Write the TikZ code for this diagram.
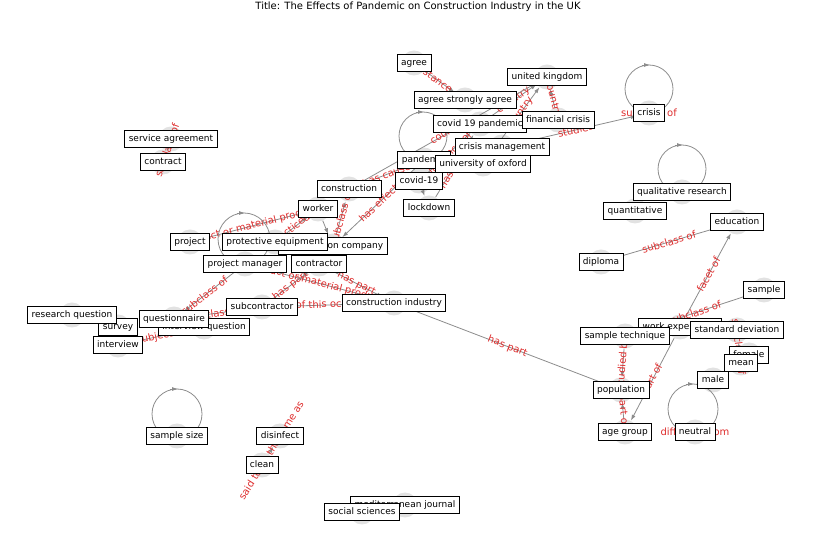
\documentclass[tikz,border=0pt]{standalone}
\usepackage{fontspec}
\setmainfont{DejaVu Sans}
\usetikzlibrary{arrows.meta}
\definecolor{relred}{RGB}{222,45,45}
\definecolor{edgegray}{RGB}{140,140,140}
\definecolor{dotgray}{RGB}{226,226,226}
\tikzset{
  vert/.style={circle, fill=dotgray, minimum size=25pt, inner sep=0pt},
  tag/.style={draw=black, fill=white, line width=0.8pt, inner xsep=4pt, inner ysep=3.8pt,
    text height=7pt, text depth=2pt, font=\fontsize{9}{10}\selectfont},
  rel/.style={draw=edgegray, line width=0.8pt, -{Latex[length=6pt,width=4pt]}},
  loopline/.style={draw=edgegray, line width=0.8pt},
  rellbl/.style={text=relred, font=\fontsize{10}{11}\selectfont, inner sep=1pt},
}

\begin{document}
\begin{tikzpicture}[x=1pt, y=1pt]
                \useasboundingbox (0,0) rectangle (837,559);
                \node (title) at (418,552) {\fontsize{10}{12}\selectfont Title: The Effects of Pandemic on Construction Industry in the UK};

                % Vertices
                \node[vert] (agree) at (414,496) {};
                \node[vert] (uk) at (547,482) {};
                \node[vert] (agreestr) at (465,459) {};
                \node[vert] (covpand) at (480,435) {};
                \node[vert] (fincrisis) at (558,439) {};
                \node[vert] (crisis) at (649,446) {};
                \node[vert] (crismgmt) at (502,412) {};
                \node[vert] (pandemic) at (424,399) {};
                \node[vert] (oxford) at (483,395) {};
                \node[vert] (covid) at (419,378) {};
                \node[vert] (constr) at (349,370) {};
                \node[vert] (lockdown) at (429,351) {};
                \node[vert] (worker) at (318,350) {};
                \node[vert] (servagr) at (171,420) {};
                \node[vert] (contract) at (163,397) {};
                \node[vert] (constrco) at (333,313) {};
                \node[vert] (project) at (190,317) {};
                \node[vert] (protequip) at (275,317) {};
                \node[vert] (projmgr) at (245,295) {};
                \node[vert] (contractor) at (319,295) {};
                \node[vert] (subcontr) at (262,252) {};
                \node[vert] (constrind) at (394,256) {};
                \node[vert] (resq) at (72,244) {};
                \node[vert] (survey) at (118,232) {};
                \node[vert] (intq) at (204,232) {};
                \node[vert] (questionnaire) at (174,240) {};
                \node[vert] (interview) at (118,214) {};
                \node[vert] (qualres) at (682,367) {};
                \node[vert] (quant) at (635,348) {};
                \node[vert] (education) at (737,337) {};
                \node[vert] (diploma) at (601,297) {};
                \node[vert] (sample) at (764,269) {};
                \node[vert] (workexp) at (680,232) {};
                \node[vert] (samptech) at (625,223) {};
                \node[vert] (stddev) at (737,229) {};
                \node[vert] (female) at (749,204) {};
                \node[vert] (mean) at (741,196) {};
                \node[vert] (male) at (713,179) {};
                \node[vert] (population) at (621,169) {};
                \node[vert] (agegroup) at (625,127) {};
                \node[vert] (neutral) at (695,127) {};
                \node[vert] (sampsize) at (177,123) {};
                \node[vert] (disinfect) at (280,123) {};
                \node[vert] (clean) at (262,94) {};
                \node[vert] (medjournal) at (405,54) {};
                \node[vert] (socsci) at (362,47) {};

                % Relations, upper part
                \draw[rel] (agree) -- node[rellbl, sloped] {instance of} (agreestr);
                \draw[rel] (covpand) -- node[rellbl, sloped] {country} (uk);
                \draw[rel] (oxford) -- node[rellbl, sloped, pos=0.6] {country} (uk);
                \draw[rel] (fincrisis) -- node[rellbl, sloped] {country} (uk);
                \draw[rel] (constr) -- node[rellbl, sloped] {country} (uk);
                \draw[rel] (crismgmt) -- node[rellbl, sloped] {studies} (crisis);
                \draw[rel] (covid) -- node[rellbl, sloped] {instance of} (covpand);
                \draw[rel] (constr) -- node[rellbl, sloped] {has cause} (pandemic);
                \draw[rel] (pandemic) -- node[rellbl, sloped] {has effect} (constrco);
                \draw[rel] (covid) -- (lockdown);
                \draw[rel] (lockdown) -- node[rellbl, sloped] {has cause} (covpand);
                \draw[rel] (constrco) -- node[rellbl, sloped] {subclass of} (constr);
                \draw[rel] (worker) -- (constrco);

                % Relations, middle part
                \draw[rel] (protequip) -- node[rellbl, sloped] {practiced by} (worker);
                \draw[rel] (project) -- node[rellbl, sloped] {product or material produced} (worker);
                \draw[rel] (projmgr) -- node[rellbl, sloped, pos=0.6] {subclass of} (questionnaire);
                \draw[rel] (questionnaire) -- node[rellbl, sloped, pos=0.45] {subclass of} (subcontr);
                \draw[rel] (subcontr) -- node[rellbl, sloped] {has part} (contractor);
                \draw[rel] (contractor) -- node[rellbl, sloped] {has part} (constrind);
                \draw[rel] (projmgr) -- node[rellbl, sloped] {product or material produced} (constrind);
                \draw[rel] (subcontr) -- node[rellbl, sloped] {field of this occupation} (constrind);
                \draw[rel] (constrind) -- node[rellbl, sloped] {has part} (population);
                \draw[rel] (contract) -- node[rellbl, sloped] {subclass of} (servagr);
                \draw[rel] (interview) -- node[rellbl, sloped] {subject of} (intq);

                % Relations, right part
                \draw[rel] (diploma) -- node[rellbl, sloped] {subclass of} (education);
                \draw[rel] (workexp) -- node[rellbl, sloped] {facet of} (education);
                \draw[rel] (workexp) -- node[rellbl, sloped] {part of} (agegroup);
                \draw[rel] (sample) -- node[rellbl, sloped] {subclass of} (samptech);
                \draw[rel] (samptech) -- node[rellbl, sloped] {studied by} (population);
                \draw[rel] (agegroup) -- node[rellbl, sloped] {part of} (population);
                \draw[rel] (mean) -- node[rellbl, sloped] {subclass of} (stddev);

                % Relations, lower part
                \draw[rel] (clean) -- node[rellbl, sloped] {said to be the same as} (disinfect);
                \draw[rel] (socsci) -- (medjournal);

                % Self loops
                \coordinate (crisis-top) at (649,494);
                \coordinate (pandemic-top) at (423,447);
                \coordinate (qualres-top) at (682,414);
                \coordinate (projmgr-top) at (244,346);
                \coordinate (sampsize-top) at (177,170);
                \coordinate (neutral-top) at (693,175);
                \draw[loopline] (crisis-top) arc[start angle=90, end angle=-270, radius=24pt];
                \draw[loopline] (pandemic-top) arc[start angle=90, end angle=-270, radius=24pt];
                \draw[loopline] (qualres-top) arc[start angle=90, end angle=-270, radius=24pt];
                \draw[loopline] (projmgr-top) arc[start angle=90, end angle=-270, radius=26pt];
                \draw[loopline] (sampsize-top) arc[start angle=90, end angle=-270, radius=25pt];
                \draw[loopline] (neutral-top) arc[start angle=90, end angle=-270, radius=25pt];
                \foreach \t in {crisis-top, pandemic-top, qualres-top, projmgr-top, sampsize-top, neutral-top}
                    \draw[rel] ([xshift=-7pt]\t) -- ([xshift=1pt]\t);
                \node[rellbl] (crisis-l) at (crisis) {subclass of};
                \node[rellbl] (neutral-l) at (neutral) {different from};

                % Labels
                \node[tag] (agree-t) at (agree) {agree};
                \node[tag] (uk-t) at (uk) {united kingdom};
                \node[tag] (agreestr-t) at (agreestr) {agree strongly agree};
                \node[tag] (covpand-t) at (covpand) {covid 19 pandemic};
                \node[tag] (fincrisis-t) at (fincrisis) {financial crisis};
                \node[tag] (crisis-t) at (crisis) {crisis};
                \node[tag] (crismgmt-t) at (crismgmt) {crisis management};
                \node[tag] (pandemic-t) at (pandemic) {pandemic};
                \node[tag] (oxford-t) at (oxford) {university of oxford};
                \node[tag] (covid-t) at (covid) {covid-19};
                \node[tag] (constr-t) at (constr) {construction};
                \node[tag] (lockdown-t) at (lockdown) {lockdown};
                \node[tag] (worker-t) at (worker) {worker};
                \node[tag] (servagr-t) at (servagr) {service agreement};
                \node[tag] (contract-t) at (contract) {contract};
                \node[tag] (constrco-t) at (constrco) {construction company};
                \node[tag] (project-t) at (project) {project};
                \node[tag] (protequip-t) at (protequip) {protective equipment};
                \node[tag] (projmgr-t) at (projmgr) {project manager};
                \node[tag] (contractor-t) at (contractor) {contractor};
                \node[tag] (subcontr-t) at (subcontr) {subcontractor};
                \node[tag] (constrind-t) at (constrind) {construction industry};
                \node[tag] (survey-t) at (survey) {survey};
                \node[tag] (resq-t) at (resq) {research question};
                \node[tag] (intq-t) at (intq) {interview question};
                \node[tag] (questionnaire-t) at (questionnaire) {questionnaire};
                \node[tag] (interview-t) at (interview) {interview};
                \node[tag] (qualres-t) at (qualres) {qualitative research};
                \node[tag] (quant-t) at (quant) {quantitative};
                \node[tag] (education-t) at (education) {education};
                \node[tag] (diploma-t) at (diploma) {diploma};
                \node[tag] (sample-t) at (sample) {sample};
                \node[tag] (workexp-t) at (workexp) {work experience};
                \node[tag] (samptech-t) at (samptech) {sample technique};
                \node[tag] (stddev-t) at (stddev) {standard deviation};
                \node[tag] (female-t) at (female) {female};
                \node[tag] (mean-t) at (mean) {mean};
                \node[tag] (male-t) at (male) {male};
                \node[tag] (population-t) at (population) {population};
                \node[tag] (agegroup-t) at (agegroup) {age group};
                \node[tag] (neutral-t) at (neutral) {neutral};
                \node[tag] (sampsize-t) at (sampsize) {sample size};
                \node[tag] (disinfect-t) at (disinfect) {disinfect};
                \node[tag] (clean-t) at (clean) {clean};
                \node[tag] (medjournal-t) at (medjournal) {mediterranean journal};
                \node[tag] (socsci-t) at (socsci) {social sciences};
\end{tikzpicture}
\end{document}
